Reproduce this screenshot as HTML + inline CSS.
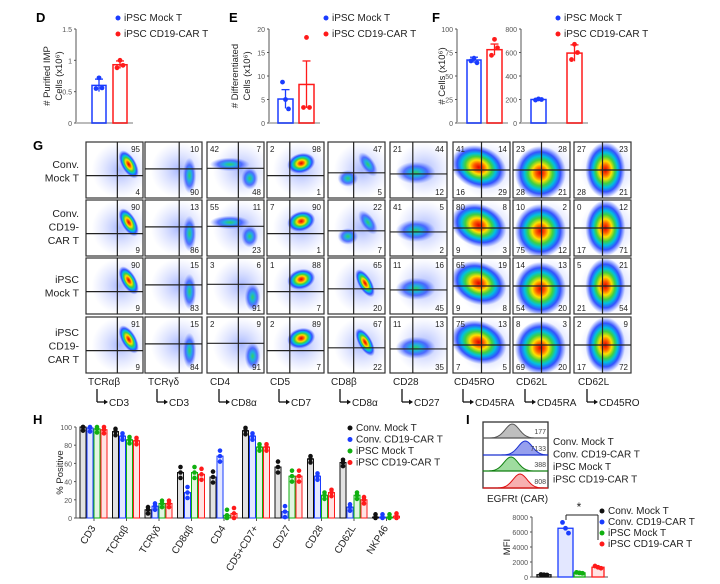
<!DOCTYPE html><html><head><meta charset="utf-8"><style>
body{margin:0;background:#fff;}svg{display:block;font-family:"Liberation Sans",Arial,sans-serif;}
</style></head><body>
<svg id="s" width="720" height="584" viewBox="0 0 720 584" xmlns="http://www.w3.org/2000/svg">
<defs>
<radialGradient id="heat"><stop offset="0" stop-color="#e00000"/><stop offset="0.18" stop-color="#ff6000"/><stop offset="0.32" stop-color="#ffe000"/><stop offset="0.48" stop-color="#40d040"/><stop offset="0.62" stop-color="#00c0e0"/><stop offset="0.78" stop-color="#2040ff" stop-opacity="0.9"/><stop offset="1" stop-color="#4060ff" stop-opacity="0"/></radialGradient>
<radialGradient id="cool"><stop offset="0" stop-color="#30d060"/><stop offset="0.3" stop-color="#20b0e0"/><stop offset="0.6" stop-color="#3050ff" stop-opacity="0.8"/><stop offset="1" stop-color="#6080ff" stop-opacity="0"/></radialGradient>
<radialGradient id="haze"><stop offset="0" stop-color="#5070ff" stop-opacity="0.5"/><stop offset="1" stop-color="#90a0ff" stop-opacity="0"/></radialGradient>
</defs>
<g font-weight="bold" font-size="13"><text x="36" y="22">D</text><text x="229" y="22">E</text><text x="432" y="22">F</text><text x="33" y="150">G</text><text x="33" y="424">H</text><text x="466" y="424">I</text></g>
</svg>
<script>
(function(){
const s=document.getElementById('s');let h='';
const B='#1a3cff',R='#ff1a1a',G='#10b010',K='#111';
function t(x,y,str,o){o=o||{};h+=`<text x="${x}" y="${y}" font-size="${o.fs||9}" ${o.a?`text-anchor="${o.a}"`:''} ${o.tr?`transform="${o.tr}"`:''} fill="${o.c||'#222'}">${str}</text>`;}
function l(x1,y1,x2,y2,c,w){c=c||'#333';w=w||1;h+=`<line x1="${x1}" y1="${y1}" x2="${x2}" y2="${y2}" stroke="${c}" stroke-width="${w}"/>`;}
function dot(x,y,c,r){r=r||2.6;h+=`<circle cx="${x}" cy="${y}" r="${r}" fill="${c}"/>`;}
function leg(x,y,items,fs,dy){items.forEach((it,i)=>{dot(x,y+i*dy-3,it[1],2.5);t(x+6,y+i*dy,it[0],{fs:fs});});}
function bar(ax,tp,bt,max,ticks,bars,ylab){
 l(ax,tp,ax,bt,'#555');const lb=bars[bars.length-1];l(ax,bt,lb.x+lb.w+6,bt,'#bbb',2);
 ticks.forEach(v=>{let y=bt-(bt-tp)*v/max;l(ax-2,y,ax,y,'#555');t(ax-4,y+3,v,{fs:7,a:'end',c:'#555'});});
 bars.forEach(b=>{let y=bt-(bt-tp)*b.v/max;h+=`<rect x="${b.x}" y="${y}" width="${b.w}" height="${bt-y}" fill="none" stroke="${b.c}" stroke-width="1.5"/>`;
 let e=(bt-tp)*b.e/max;l(b.x+b.w/2,y-e,b.x+b.w/2,y+e,b.c,1.3);l(b.x+b.w/2-4,y-e,b.x+b.w/2+4,y-e,b.c,1.3);
 b.p.forEach((p,i)=>dot(b.x+b.w/2+(i-1)*3,bt-(bt-tp)*p/max,b.c,2.4));});
 ylab.forEach(yl=>t(yl[0],(tp+bt)/2,yl[1],{fs:9.5,a:'middle',tr:`rotate(-90 ${yl[0]} ${(tp+bt)/2})`}));
}
bar(76,29,123,1.5,[0,0.5,1,1.5],[{x:92,w:14,v:0.6,e:0.1,c:B,p:[0.55,0.72,0.56]},{x:113,w:14,v:0.93,e:0.06,c:R,p:[0.88,1.0,0.92]}],[[50,'# Purified IMP'],[62,'Cells (x10⁶)']]);
bar(269,29,123,20,[0,5,10,15,20],[{x:278,w:15,v:5.1,e:2,c:B,p:[8.7,5,3]},{x:299,w:15,v:8.2,e:5,c:R,p:[3.3,18.2,3.3]}],[[238,'# Differentiated'],[250,'Cells (x10⁶)']]);
bar(457,29,123,100,[0,25,50,75,100],[{x:467,w:14,v:67,e:3,c:B,p:[66,69,64]},{x:487,w:15,v:78,e:6,c:R,p:[72,89,80]}],[[445,'# Cells (x10⁶)']]);
bar(521,29,123,800,[0,200,400,600,800],[{x:531,w:15,v:200,e:10,c:B,p:[195,205,200]},{x:567,w:15,v:595,e:70,c:R,p:[540,670,600]}],[]);
leg(118,21,[['iPSC Mock T',B],['iPSC CD19-CAR T',R]],10,16);
leg(326,21,[['iPSC Mock T',B],['iPSC CD19-CAR T',R]],10,16);
leg(558,21,[['iPSC Mock T',B],['iPSC CD19-CAR T',R]],10,16);
const cx=[86,145,207,267,328,390,453,513,574],ry=[142,200,258,317],W=57,H=56;
const cols=[
 {vx:.55,hy:.6,n:[['','95','','4'],['','90','','9'],['','90','','9'],['','91','','9']],b:r=>[[.75,.4,.13,.28,-30,'heat']]},
 {vx:.6,hy:.48,n:[['','10','','90'],['','13','','86'],['','15','','83'],['','15','','84']],b:r=>[[.78,.6,.12,.32,0,'cool']]},
 {vx:.55,hy:.47,n:[['42','7','','48'],['55','11','','23'],['3','6','','91'],['2','9','','91']],b:r=>r<2?[[.4,.4,.35,.12,0,'cool'],[.75,.65,.15,.2,0,'cool']]:[[.8,.7,.14,.25,0,'cool']]},
 {vx:.4,hy:.6,n:[['2','98','','1'],['7','90','','1'],['1','88','','7'],['2','89','','7']],b:r=>[[.6,.38,.25,.18,-15,'heat']]},
 {vx:.45,hy:.55,n:[['','47','','5'],['','22','','7'],['','65','','20'],['','67','','22']],b:r=>r<2?[[.7,.4,.12,.25,-35,'cool'],[.35,.65,.18,.15,0,'cool']]:[[.65,.45,.12,.28,-30,'heat']]},
 {vx:.4,hy:.57,n:[['21','44','','12'],['41','5','','2'],['11','16','','45'],['11','13','','35']],b:r=>[[.45,.55,.35,.2,0,'cool']]},
 {vx:.5,hy:.5,n:[['41','14','16','29'],['80','8','9','3'],['65','19','9','8'],['75','13','7','5']],b:r=>[[.45,.45,.5,.38,20,'heat']]},
 {vx:.5,hy:.5,n:[['23','28','28','21'],['10','2','75','12'],['14','13','54','20'],['8','3','69','20']],b:r=>[[.48,.55,.45,.48,0,'heat']]},
 {vx:.5,hy:.5,n:[['27','23','28','21'],['0','12','17','71'],['5','21','21','54'],['2','9','17','72']],b:r=>[[.55,.5,.35,.5,0,'heat']]}];
cols.forEach((c,ci)=>ry.forEach((y,ri)=>{let x=cx[ci];
 h+=`<svg x="${x}" y="${y}" width="${W}" height="${H}" overflow="hidden"><rect width="${W}" height="${H}" fill="#fff"/><ellipse cx="${W*.6}" cy="${H*.5}" rx="${W*.5}" ry="${H*.5}" fill="url(#haze)"/>`;
 c.b(ri).forEach(b=>{h+=`<ellipse cx="${b[0]*W}" cy="${b[1]*H}" rx="${b[2]*W}" ry="${b[3]*H}" transform="rotate(${b[4]} ${b[0]*W} ${b[1]*H})" fill="url(#${b[5]})"/>`;});
 h+=`</svg>`;
 h+=`<rect x="${x}" y="${y}" width="${W}" height="${H}" fill="none" stroke="#333" stroke-width="1.2"/>`;
 l(x+c.vx*W,y,x+c.vx*W,y+H,'#222',1.2);l(x,y+c.hy*H,x+W,y+c.hy*H,'#222',1.2);
 const n=c.n[ri];
 if(n[0])t(x+3,y+10,n[0],{fs:8});if(n[1])t(x+W-3,y+10,n[1],{fs:8,a:'end'});
 if(n[2])t(x+3,y+H-3,n[2],{fs:8});if(n[3])t(x+W-3,y+H-3,n[3],{fs:8,a:'end'});
}));
[[['Conv.','Mock T'],168],[['Conv.','CD19-','CAR T'],217],[['iPSC','Mock T'],283],[['iPSC','CD19-','CAR T'],336]].forEach(r=>r[0].forEach((s2,i)=>t(79,r[1]+i*13.5,s2,{fs:10.5,a:'end'})));
const lab=[['TCRαβ','CD3',88],['TCRγδ','CD3',148],['CD4','CD8α',210],['CD5','CD7',270],['CD8β','CD8α',331],['CD28','CD27',393],['CD45RO','CD45RA',454],['CD62L','CD45RA',516],['CD62L','CD45RO',578]];
lab.forEach(a=>{t(a[2],385,a[0],{fs:10});let x=a[2]+9;l(x,389,x,402,'#111',1.3);l(x,402,x+8,402,'#111',1.3);h+=`<polygon points="${x+11},402 ${x+7},399.5 ${x+7},404.5" fill="#111"/>`;t(x+12,406,a[1],{fs:10});});
const hTop=427,hBot=518,ax=76;l(ax,hTop,ax,hBot,'#555');l(ax,hBot,398,hBot,'#555');
[0,20,40,60,80,100].forEach(v=>{let y=hBot-(hBot-hTop)*v/100;l(ax-2,y,ax,y,'#555');t(ax-4,y+3,v,{fs:7,a:'end',c:'#555'});});
t(63,(hTop+hBot)/2,'% Positive',{fs:9.5,a:'middle',tr:`rotate(-90 63 ${(hTop+hBot)/2})`});
const cats=['CD3','TCRαβ','TCRγδ','CD8αβ','CD4','CD5+CD7+','CD27','CD28','CD62L','NKP46'];
const hv=[[100,99,98,97],[95,90,86,85],[9,13,16,16],[50,28,50,48],[45,68,3,5],[96,90,78,78],[56,7,46,46],[65,46,25,28],[61,12,25,20],[1,1,1,2]];
const cl=[K,B,G,R];
hv.forEach((g,i)=>{let x0=80+i*32.5;l(x0+14,hBot,x0+14,hBot+3,'#555');
 g.forEach((v,j)=>{let x=x0+j*7,y=hBot-(hBot-hTop)*v/100;h+=`<rect x="${x}" y="${y}" width="6" height="${hBot-y}" fill="${cl[j]}" fill-opacity="0.12" stroke="${cl[j]}" stroke-width="1"/>`;
  let sp=[v+3,v,v-4];if(i==3||i==4||i==6){sp=[v+6,v,v-6];}
  sp.forEach(p=>dot(x+3,hBot-(hBot-hTop)*Math.max(0,Math.min(100,p))/100,cl[j],2.3));});
 let tx=x0+16;t(tx,hBot+10,cats[i],{fs:10,a:'end',tr:`rotate(-58 ${tx} ${hBot+10})`});});
leg(350,431,[['Conv. Mock T',K],['Conv. CD19-CAR T',B],['iPSC Mock T',G],['iPSC CD19-CAR T',R]],10,11.5);
h+=`<rect x="483" y="422" width="65" height="66" fill="none" stroke="#333" stroke-width="1.3"/>`;
const hs=[[438,.45,'#888','#555','177'],[455,.65,'#4050e0','#1a30d0','7133'],[471,.43,'#50c050','#108010','388'],[488,.57,'#f07070','#e01010','808']];
hs.forEach(r=>{let b=r[0],px=483+r[1]*65,p=`M483,${b} `;for(let k=0;k<=65;k+=1.5){let x=483+k,d=(x-px)/7;p+=`L${x},${b-14*Math.exp(-d*d/2)}`;}
 h+=`<path d="${p} L548,${b} Z" fill="${r[2]}" fill-opacity="0.55" stroke="${r[3]}" stroke-width="1"/>`;l(483,b,548,b,r[3],1.2);t(546,b-4,r[4],{fs:7,a:'end',c:'#444'});});
['Conv. Mock T','Conv. CD19-CAR T','iPSC Mock T','iPSC CD19-CAR T'].forEach((s2,i)=>t(553,445+i*12.5,s2,{fs:10}));
t(487,502,'EGFRt (CAR)',{fs:10});
const mt=517,mb=577,mx=532;l(mx,mt,mx,mb,'#555');l(mx,mb,608,mb,'#555');
[0,2000,4000,6000,8000].forEach(v=>{let y=mb-(mb-mt)*v/8000;l(mx-2,y,mx,y,'#555');t(mx-4,y+3,v,{fs:7,a:'end',c:'#555'});});
t(510,547,'MFI',{fs:9.5,a:'middle',tr:'rotate(-90 510 547)'});
[[537,14,300,K],[558,15,6500,B],[574,11,550,G],[592,12,1300,R]].forEach(b=>{let y=mb-(mb-mt)*b[2]/8000;h+=`<rect x="${b[0]}" y="${y}" width="${b[1]}" height="${mb-y}" fill="${b[3]}" fill-opacity="0.12" stroke="${b[3]}" stroke-width="1.3"/>`;
 [1.12,1,0.9].forEach((f,i)=>dot(b[0]+b[1]/2+(i-1)*3,mb-(mb-mt)*b[2]*f/8000,b[3],2.4));});
l(566,515,598,515,'#222');l(566,515,566,520,'#222');l(598,515,598,540,'#222');t(579,511,'*',{fs:12,a:'middle'});
leg(602,514,[['Conv. Mock T',K],['Conv. CD19-CAR T',B],['iPSC Mock T',G],['iPSC CD19-CAR T',R]],10,11);
s.insertAdjacentHTML('beforeend',h);
})();
</script>
</body></html>
